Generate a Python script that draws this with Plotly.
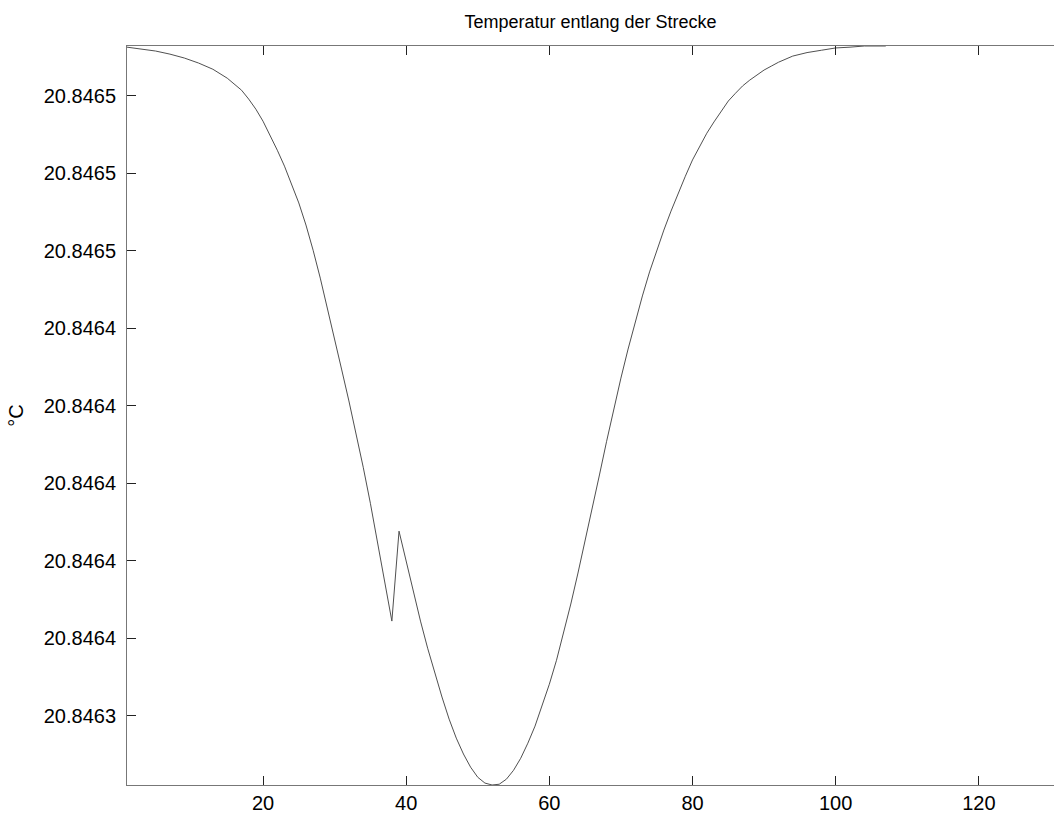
import plotly.graph_objects as go

# Position along the route
strecke = [1, 3, 5, 7, 9, 11, 13, 15, 17, 18, 19, 20, 21, 22, 23, 24, 25, 26, 27, 28, 29,
           30, 31, 32, 33, 34, 35, 36, 37, 38, 39, 40, 41, 42, 43, 44, 45, 46, 47, 48, 49,
           50, 51, 52, 53, 54, 55, 56, 57, 58, 59, 60, 61, 62, 63, 64, 65, 66, 67, 68, 69,
           70, 71, 72, 73, 74, 75, 76, 77, 78, 79, 80, 81, 82, 83, 84, 85, 86, 87, 88, 89,
           90, 91, 92, 94, 96, 98, 100, 102, 104, 107]

# Temperature in °C
temperatur = [20.8465125, 20.8465120, 20.8465115, 20.8465107, 20.8465097, 20.8465084,
              20.8465068, 20.8465045, 20.8465014, 20.8464991, 20.8464965, 20.8464934,
              20.8464898, 20.8464859, 20.8464818, 20.8464772, 20.8464723, 20.8464666,
              20.8464601, 20.8464529, 20.8464452, 20.8464372, 20.8464292, 20.8464212,
              20.8464129, 20.8464041, 20.8463948, 20.8463850, 20.8463750, 20.8463644,
              20.8463876, 20.8463796, 20.8463716, 20.8463644, 20.8463574, 20.8463510,
              20.8463448, 20.8463391, 20.8463342, 20.8463301, 20.8463267, 20.8463241,
              20.8463226, 20.8463221, 20.8463223, 20.8463236, 20.8463259, 20.8463290,
              20.8463329, 20.8463373, 20.8463425, 20.8463481, 20.8463543, 20.8463613,
              20.8463688, 20.8463768, 20.8463850, 20.8463936, 20.8464021, 20.8464108,
              20.8464191, 20.8464271, 20.8464346, 20.8464416, 20.8464483, 20.8464545,
              20.8464601, 20.8464653, 20.8464702, 20.8464748, 20.8464792, 20.8464834,
              20.8464870, 20.8464903, 20.8464932, 20.8464960, 20.8464986, 20.8465006,
              20.8465025, 20.8465040, 20.8465053, 20.8465066, 20.8465076, 20.8465086,
              20.8465102, 20.8465111, 20.8465117, 20.8465123, 20.8465125, 20.8465128,
              20.8465128]

x_tick_values = [20, 40, 60, 80, 100, 120]
y_tick_values = [20.84634, 20.84636, 20.84638, 20.84640, 20.84642,
                 20.84644, 20.84646, 20.84648, 20.84650]
y_tick_labels = ["20.8463", "20.8464", "20.8464", "20.8464", "20.8464",
                 "20.8464", "20.8465", "20.8465", "20.8465"]

x_range = [1, 130.5]
y_range = [min(temperatur), max(temperatur)]

FONT = "Liberation Sans, Arial, sans-serif"

fig = go.Figure()
fig.add_trace(go.Scatter(
    x=strecke, y=temperatur, mode="lines",
    line=dict(color="#505050", width=1),
    hoverinfo="x+y", showlegend=False,
))

fig.update_layout(
    width=1054, height=814,
    margin=dict(l=127, r=0, t=46, b=29),
    paper_bgcolor="white", plot_bgcolor="white",
    font=dict(family=FONT, size=20, color="black"),
    title=dict(text="Temperatur entlang der Strecke",
               font=dict(family=FONT, size=18, color="black"),
               x=0.5, xref="paper", xanchor="center",
               y=1 - 22 / 814, yref="container", yanchor="middle"),
)

fig.update_xaxes(
    range=x_range, tickvals=x_tick_values,
    ticks="inside", ticklen=9, tickwidth=1, tickcolor="#222",
    showline=True, linecolor="#777", linewidth=1, mirror="ticks",
    showgrid=False, zeroline=False,
    tickfont=dict(family=FONT, size=20, color="black"),
)
fig.update_yaxes(
    range=y_range, tickvals=y_tick_values, ticktext=y_tick_labels,
    ticks="inside", ticklen=9, tickwidth=1, tickcolor="#222",
    showline=True, linecolor="#777", linewidth=1, mirror=False,
    showgrid=False, zeroline=False,
    ticklabelstandoff=6,
    tickfont=dict(family=FONT, size=20, color="black"),
    title=dict(text="°C", font=dict(family=FONT, size=20, color="black"), standoff=14),
)

fig.write_html("out.html")
